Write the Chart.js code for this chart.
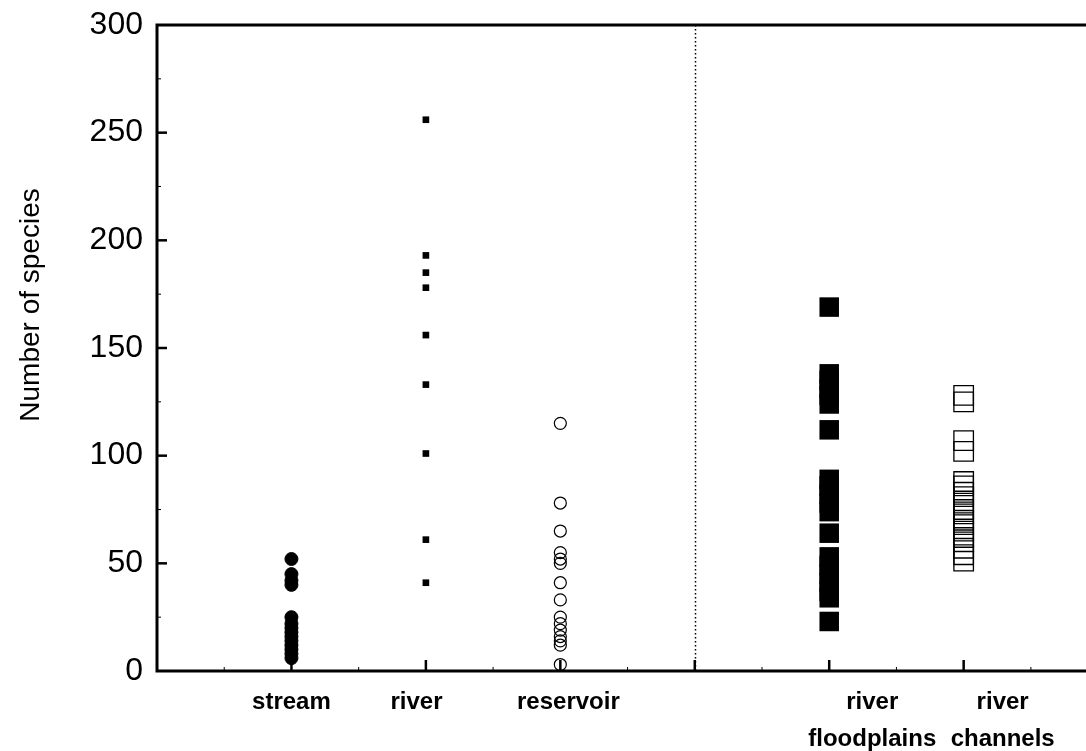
<!DOCTYPE html>
<html>
<head>
<meta charset="utf-8">
<script src="https://cdn.jsdelivr.net/npm/chart.js@4.4.0/dist/chart.umd.min.js"></script>
<style>
  html, body { margin: 0; padding: 0; background: #fff; }
  #wrap { width: 1086px; height: 751px; }
</style>
</head>
<body>
<div id="wrap"><canvas id="speciesChart" width="1086" height="751"></canvas></div>
<script>
// habitat categories (x position = category number on the axis)
const categories = ["stream", "river", "reservoir", ["river", "floodplains"], ["river", "channels"]]
const categoryX = [1, 2, 3, 5, 6]

// number of species
const streamVals = [52, 45, 42, 40, 25, 22, 20, 18, 16, 14, 12, 10, 8, 6]
const riverVals = [256, 193, 185, 178, 156, 133, 101, 61, 41]
const reservoirVals = [115, 78, 65, 55, 52, 50, 41, 33, 25, 22, 19, 16, 14, 12, 3]
const floodplainVals = [169, 138, 135, 131, 128, 124, 112, 89, 86, 82, 78, 74, 64, 53, 49, 45, 41, 37, 34, 23]
const channelVals = [128, 125, 107, 102, 88, 86, 83, 81, 78, 75, 73, 70, 68, 65, 62, 60, 57, 54, 51]

const yTicks = [0, 50, 100, 150, 200, 250, 300]

// where the category names sit under the axis (layout only)
const labelAt = [1, 1.93, 3.06, 5.32, 6.29]

function toPoints(x, vals){
    return vals.map(function(v){ return {x: x, y: v} })
}

// frame, tick marks, divider and y title
const framePlugin = {
    id: 'frame',
    beforeDatasetsDraw(chart){
        let ctx = chart.ctx
        let a = chart.chartArea
        let xs = chart.scales.x
        let ys = chart.scales.y
        ctx.save()
        ctx.strokeStyle = '#000'

        // dotted divider at x = 4
        let dx = Math.round(xs.getPixelForValue(4)) + 0.5
        ctx.lineWidth = 1.5
        ctx.setLineDash([1.5, 2.5])
        ctx.beginPath()
        ctx.moveTo(dx, a.top)
        ctx.lineTo(dx, a.bottom)
        ctx.stroke()
        ctx.setLineDash([])

        // x ticks pointing up
        for (let v = 0.5; v < xs.max; v += 0.5){
            let px = xs.getPixelForValue(v)
            let major = Number.isInteger(v)
            ctx.lineWidth = major ? 2.5 : 1
            ctx.beginPath()
            ctx.moveTo(px, a.bottom)
            ctx.lineTo(px, a.bottom - (major ? 11 : 4))
            ctx.stroke()
        }
        // y ticks pointing right
        for (let v = 25; v < 300; v += 25){
            let py = ys.getPixelForValue(v)
            let major = v % 50 == 0
            ctx.lineWidth = major ? 2.5 : 1
            ctx.beginPath()
            ctx.moveTo(a.left, py)
            ctx.lineTo(a.left + (major ? 10 : 4), py)
            ctx.stroke()
        }

        // axes + top border
        ctx.lineWidth = 3
        ctx.beginPath()
        ctx.moveTo(a.right + 2, a.top)
        ctx.lineTo(a.left, a.top)
        ctx.lineTo(a.left, a.bottom)
        ctx.lineTo(a.right + 2, a.bottom)
        ctx.stroke()

        // y axis title
        ctx.translate(31, 305)
        ctx.rotate(-Math.PI / 2)
        ctx.fillStyle = '#000'
        ctx.font = '28px "Liberation Sans", Arial, sans-serif'
        ctx.textAlign = 'center'
        ctx.textBaseline = 'middle'
        ctx.fillText('Number of species', 0, 0)
        ctx.restore()
    }
}

let chartEl = document.getElementById("speciesChart")
let myChart = new Chart(chartEl, {
    type: 'scatter',
    data: {
        datasets: [
            {
                label: 'stream',
                data: toPoints(categoryX[0], streamVals),
                pointStyle: 'circle',
                pointRadius: 6.5,
                backgroundColor: '#000',
                borderColor: '#000',
                borderWidth: 1
            },
            {
                label: 'river',
                data: toPoints(categoryX[1], riverVals),
                pointStyle: 'rect',
                pointRadius: 4.7,
                backgroundColor: '#000',
                borderColor: '#000',
                borderWidth: 0
            },
            {
                label: 'reservoir',
                data: toPoints(categoryX[2], reservoirVals),
                pointStyle: 'circle',
                pointRadius: 6,
                backgroundColor: 'rgba(0,0,0,0)',
                borderColor: '#000',
                borderWidth: 1.2
            },
            {
                label: 'river floodplains',
                data: toPoints(categoryX[3], floodplainVals),
                pointStyle: 'rect',
                pointRadius: 13.8,
                backgroundColor: '#000',
                borderColor: '#000',
                borderWidth: 0
            },
            {
                label: 'river channels',
                data: toPoints(categoryX[4], channelVals),
                pointStyle: 'rect',
                pointRadius: 13.8,
                backgroundColor: 'rgba(0,0,0,0)',
                borderColor: '#000',
                borderWidth: 1.3
            }
        ]
    },
    options: {
        responsive: false,
        animation: false,
        clip: false,
        layout: {
            autoPadding: false,
            padding: {top: 25, right: 0, left: 0, bottom: 0}
        },
        plugins: {
            legend: { display: false },
            title: { display: false },
            tooltip: { enabled: false }
        },
        scales: {
            x: {
                type: 'linear',
                min: 0,
                max: 6.91,
                border: { display: false },
                grid: { display: false, drawTicks: false },
                afterFit: function(s){
                    s.height = 80
                    s.paddingLeft = 0
                    s.paddingRight = 0
                },
                afterBuildTicks: function(s){
                    s.ticks = labelAt.map(function(v){ return {value: v} })
                },
                ticks: {
                    color: '#000',
                    padding: 13,
                    maxRotation: 0,
                    autoSkip: false,
                    font: { family: '"Liberation Sans", Arial, sans-serif', size: 24, weight: 'bold', lineHeight: 1.55 },
                    callback: function(value, index){ return categories[index] }
                }
            },
            y: {
                min: 0,
                max: 300,
                border: { display: false },
                grid: { display: false, drawTicks: false },
                afterFit: function(s){
                    s.width = 157
                    s.paddingTop = 0
                    s.paddingBottom = 0
                },
                afterBuildTicks: function(s){
                    s.ticks = yTicks.map(function(v){ return {value: v} })
                },
                ticks: {
                    color: '#000',
                    padding: 14,
                    font: { family: '"Liberation Sans", Arial, sans-serif', size: 32 }
                }
            }
        }
    },
    plugins: [framePlugin]
})
</script>
</body>
</html>
